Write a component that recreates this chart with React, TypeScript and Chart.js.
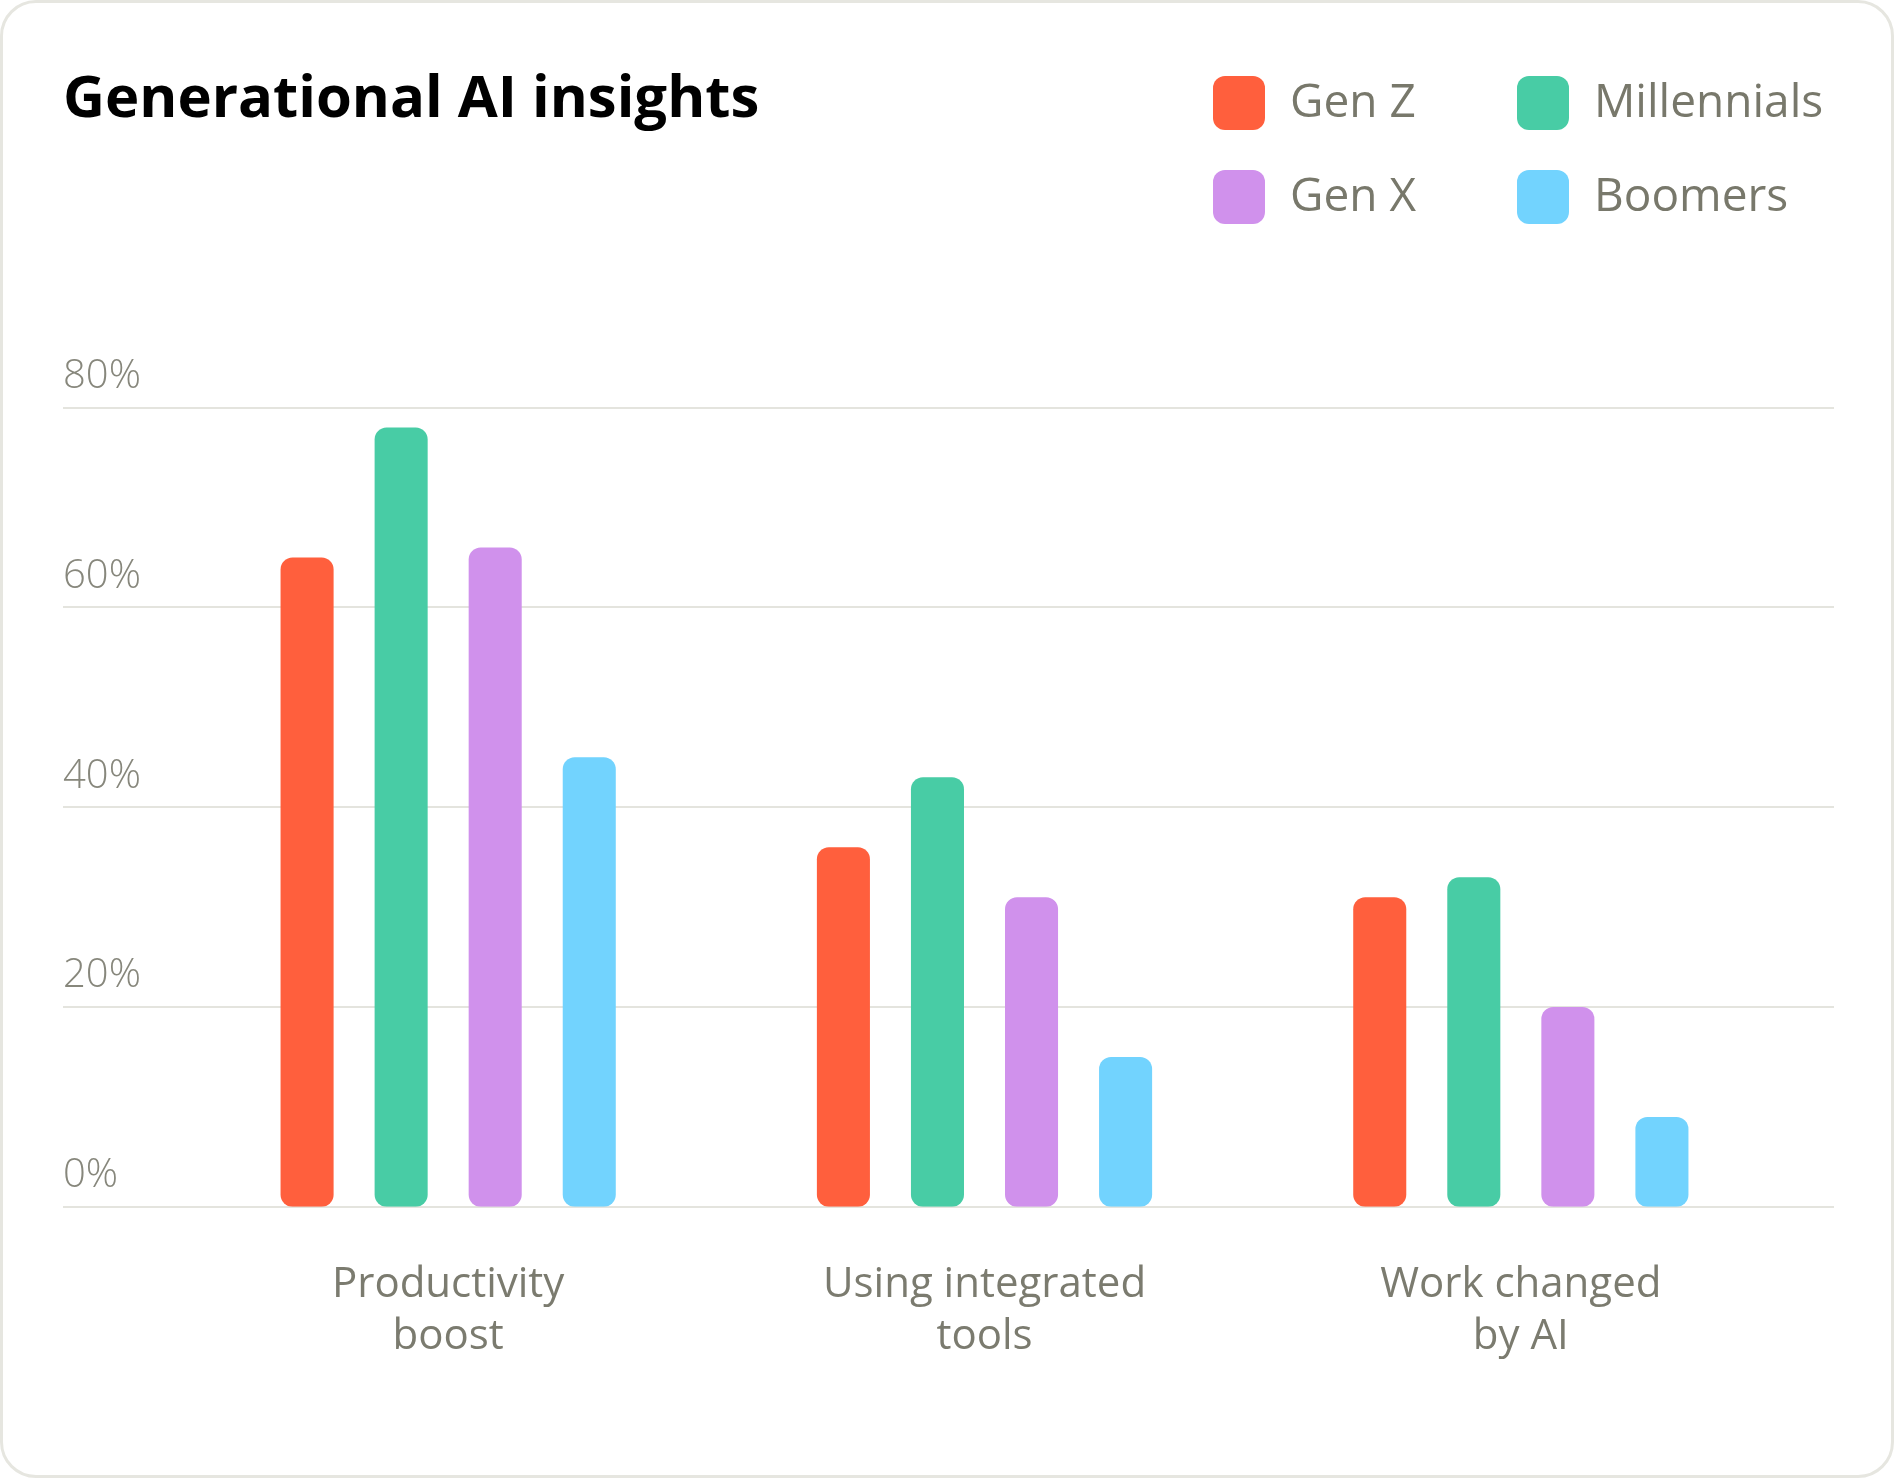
import React, { useEffect, useRef } from 'react';
import { Chart, registerables } from 'chart.js';

Chart.register(...registerables);

// chart values
const categories = [
  ['Productivity', 'boost'],
  ['Using integrated', 'tools'],
  ['Work changed', 'by AI'],
];
const seriesNames = ['Gen Z', 'Millennials', 'Gen X', 'Boomers'];
const genZ = [65, 36, 31];
const millennials = [78, 43, 33];
const genX = [66, 31, 20];
const boomers = [45, 15, 9];
const yTicks = [0, 20, 40, 60, 80];

const seriesValues = [genZ, millennials, genX, boomers];
const seriesColors = ['#ff5f3d', '#48cca5', '#d091ec', '#72d3fe'];

const FONT = '"Open Sans", "Noto Sans", sans-serif';

// grid lines run wider than the category axis, so draw them from the y scale
const extendedGrid = {
  id: 'extendedGrid',
  beforeDatasetsDraw(chart: any) {
    const { ctx, chartArea } = chart;
    const y = chart.scales.y;
    ctx.save();
    ctx.strokeStyle = '#e4e4de';
    ctx.lineWidth = 2;
    y.ticks.forEach((t: any) => {
      const py = Math.round(y.getPixelForValue(t.value));
      ctx.beginPath();
      ctx.moveTo(y.left, py);
      ctx.lineTo(chartArea.right + 45, py);
      ctx.stroke();
    });
    ctx.restore();
  },
};

// 2 x 2 legend in the top right corner
const gridLegend = {
  id: 'gridLegend',
  afterDraw(chart: any) {
    const { ctx } = chart;
    ctx.save();
    chart.data.datasets.forEach((ds: any, i: number) => {
      const x = 1213 + (i % 2) * 304;
      const cy = 103 + Math.floor(i / 2) * 94;
      ctx.fillStyle = ds.backgroundColor;
      ctx.beginPath();
      ctx.roundRect(x, cy - 27, 52, 54, 12);
      ctx.fill();
      ctx.fillStyle = '#78786b';
      ctx.font = `400 46px ${FONT}`;
      ctx.textBaseline = 'middle';
      ctx.textAlign = 'left';
      ctx.fillText(ds.label, x + 77, cy + 1);
    });
    ctx.restore();
  },
};

const App: React.FC = () => {
  const canvasRef = useRef<HTMLCanvasElement | null>(null);

  useEffect(() => {
    if (!canvasRef.current) return;

    const chart = new Chart(canvasRef.current, {
      type: 'bar',
      data: {
        labels: categories,
        datasets: seriesNames.map((name, i) => ({
          label: name,
          data: seriesValues[i],
          backgroundColor: seriesColors[i],
          borderRadius: 12,
          borderSkipped: false,
          barPercentage: 0.564,
          categoryPercentage: 0.7015,
        })),
      },
      options: {
        animation: false,
        responsive: true,
        maintainAspectRatio: false,
        layout: { padding: { left: 63, right: 105, top: 0, bottom: 71 } },
        plugins: {
          legend: { display: false },
          tooltip: { enabled: false },
          title: {
            display: true,
            text: 'Generational AI insights',
            align: 'start',
            color: '#000000',
            font: { family: FONT, size: 58, weight: 'bold' },
            padding: { top: 66, bottom: 272 },
          },
        },
        scales: {
          x: {
            grid: { display: false },
            border: { display: false },
            ticks: {
              color: '#7b7b6f',
              padding: 44,
              font: { family: FONT, size: 42, lineHeight: 1.24 },
            },
          },
          y: {
            min: 0,
            max: 80,
            afterBuildTicks: (scale: any) => {
              scale.ticks = yTicks.map((v) => ({ value: v }));
            },
            afterFit: (scale: any) => {
              scale.width = 117;
            },
            grid: { display: false },
            border: { display: false },
            ticks: {
              crossAlign: 'far',
              padding: 0,
              labelOffset: -31,
              color: '#87877c',
              font: { family: FONT, size: 40, weight: 300 },
              callback: (v: any) => `${v}%`,
            },
          },
        },
      },
      plugins: [extendedGrid, gridLegend],
    });

    return () => {
      chart.destroy();
    };
  }, []);

  return (
    <div style={{ position: 'fixed', left: 0, top: 0, width: 1894, height: 1478, background: '#ffffff' }}>
      <div
        style={{
          position: 'absolute',
          inset: 0,
          boxSizing: 'border-box',
          border: '3px solid #e6e6e0',
          borderRadius: 36,
          background: '#ffffff',
        }}
      />
      <div style={{ position: 'absolute', left: 0, top: 0, width: 1894, height: 1478 }}>
        <canvas ref={canvasRef} />
      </div>
    </div>
  );
};

export default App;
